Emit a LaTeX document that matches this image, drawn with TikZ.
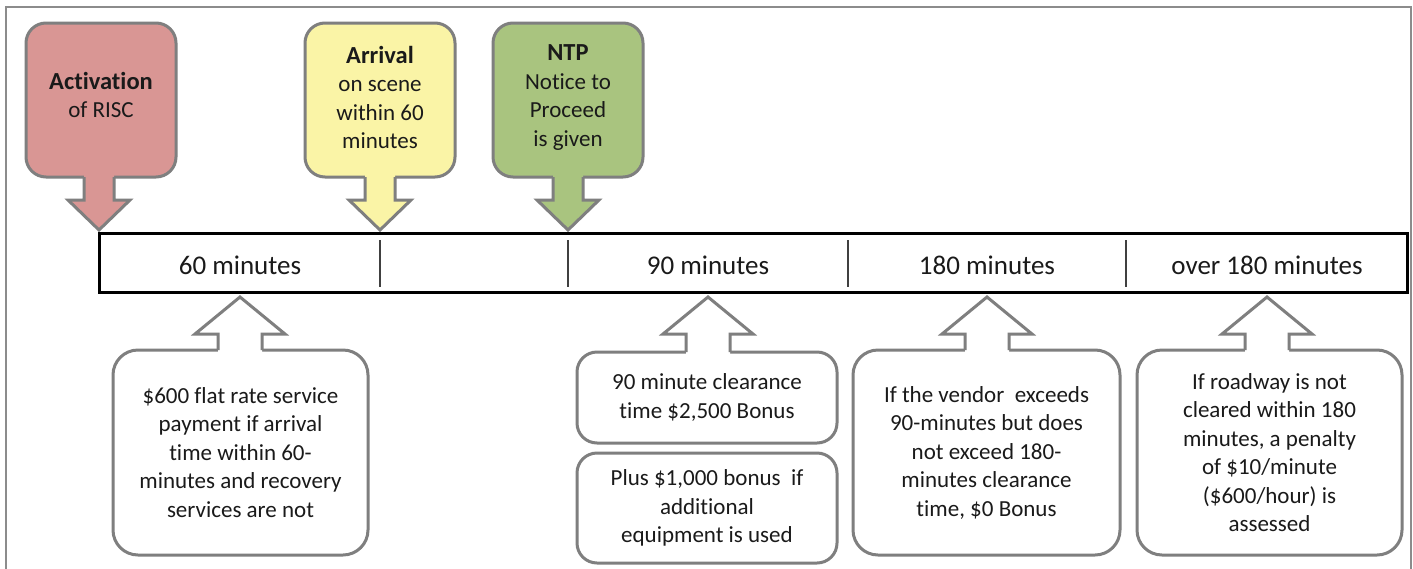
\documentclass[tikz,border=0pt]{standalone}
\usepackage{fontspec}
\setmainfont{Carlito}[Ligatures=NoCommon]
\usetikzlibrary{calc}
\definecolor{redfill}{HTML}{D99694}
\definecolor{yelfill}{HTML}{FAF4A6}
\definecolor{grnfill}{HTML}{A9C47F}
\definecolor{edgegray}{HTML}{7F7F7F}
\definecolor{txt}{HTML}{1A1A1A}
\definecolor{divgray}{HTML}{404040}
\definecolor{framegray}{HTML}{8C8C8C}

\newcommand{\callarrowdown}[3]{%
  \coordinate (#1-b) at (#2 |- #1.south);
  \coordinate (#1-h) at ($(#2)+(0,-30)$);
  \fill[#3] ($(#1-b)+(-15,-3)$) -- ($(#1-h)+(-15,0)$) -- ($(#1-h)+(-31,0)$) -- (#2) -- ($(#1-h)+(31,0)$) -- ($(#1-h)+(15,0)$) -- ($(#1-b)+(15,-3)$) -- cycle;
  \draw[calledge] ($(#1-b)+(-15,0)$) -- ($(#1-h)+(-15,0)$) -- ($(#1-h)+(-31,0)$) -- (#2) -- ($(#1-h)+(31,0)$) -- ($(#1-h)+(15,0)$) -- ($(#1-b)+(15,0)$);
}
\newcommand{\callarrowup}[2]{%
  \coordinate (#1-b) at (#2 |- #1.north);
  \coordinate (#1-h) at ($(#2)+(0,37)$);
  \fill[white] ($(#1-b)+(-22,3)$) -- ($(#1-h)+(-22,0)$) -- ($(#1-h)+(-45,0)$) -- (#2) -- ($(#1-h)+(45,0)$) -- ($(#1-h)+(22,0)$) -- ($(#1-b)+(22,3)$) -- cycle;
  \draw[calledge] ($(#1-b)+(-22,0)$) -- ($(#1-h)+(-22,0)$) -- ($(#1-h)+(-45,0)$) -- (#2) -- ($(#1-h)+(45,0)$) -- ($(#1-h)+(22,0)$) -- ($(#1-b)+(22,0)$);
}

\begin{document}
\begin{tikzpicture}[x=1pt,y=-1pt,
  calledge/.style={draw=edgegray, line width=3pt},
  topbox/.style={draw=edgegray, line width=3pt, rounded corners=20pt, minimum width=150pt, minimum height=154pt, inner sep=0pt, outer sep=0pt},
  toptext/.style={align=center, text=txt, inner sep=0pt, font=\fontsize{23}{28.5}\selectfont},
  botbox/.style={draw=edgegray, line width=3pt, fill=white, rounded corners=25pt, inner sep=0pt, outer sep=0pt, align=center, text=txt, font=\fontsize{23}{28.5}\selectfont},
  barlabel/.style={text=txt, inner sep=0pt, font=\fontsize{27}{32}\selectfont},
  divider/.style={draw=divgray, line width=1.5pt}
]
\useasboundingbox (0,0) rectangle (1413,568);
\fill[white] (0,0) rectangle (1413,568);
\draw[framegray, line width=1.5pt] (6,569) -- (6,7) -- (1411,7) -- (1411,569);

% timeline bar
\node[draw=black, line width=3pt, minimum width=1308pt, minimum height=59pt, inner sep=0pt, outer sep=0pt] (bar) at (753,262.5) {};
\coordinate (d1t) at (380,240); \coordinate (d1b) at (380,287);
\coordinate (d2t) at (568,240); \coordinate (d2b) at (568,287);
\coordinate (d3t) at (848,240); \coordinate (d3b) at (848,287);
\coordinate (d4t) at (1126,240); \coordinate (d4b) at (1126,287);
\draw[divider] (d1t) -- (d1b);
\draw[divider] (d2t) -- (d2b);
\draw[divider] (d3t) -- (d3b);
\draw[divider] (d4t) -- (d4b);
\node[barlabel] (l1) at (240,265) {60 minutes};
\node[barlabel] (l2) at (708,265) {90 minutes};
\node[barlabel] (l3) at (987,265) {180 minutes};
\node[barlabel] (l4) at (1267,265) {over 180 minutes};

% top callouts
\node[topbox, fill=redfill] (act) at (101,100) {};
\node[topbox, fill=yelfill] (arr) at (380,100) {};
\node[topbox, fill=grnfill] (ntp) at (568,100) {};
\coordinate (tAct) at (99,230);
\coordinate (tArr) at (380,230);
\coordinate (tNtp) at (568,230);
\callarrowdown{act}{tAct}{redfill}
\callarrowdown{arr}{tArr}{yelfill}
\callarrowdown{ntp}{tNtp}{grnfill}
\node[toptext] (actT) at (101,95) {{\fontsize{24.5}{28.5}\selectfont\bfseries Activation}\\of RISC};
\node[toptext] (arrT) at (380,97.5) {{\fontsize{24.5}{28.5}\selectfont\bfseries Arrival}\\on scene\\within 60\\minutes};
\node[toptext] (ntpT) at (568,97.5) {{\fontsize{24.5}{28.5}\selectfont\bfseries NTP}\\Notice to\\Proceed\\is given};

% bottom callouts
\node[botbox, minimum width=255pt, minimum height=205pt] (b1) at (240.5,452.5) {\$600 flat rate service\\payment if arrival\\time within 60-\\minutes and recovery\\services are not};
\node[botbox, rounded corners=20pt, minimum width=260pt, minimum height=91pt] (b2a) at (707,397.5) {90 minute clearance\\time \$2,500 Bonus};
\node[botbox, rounded corners=20pt, minimum width=260pt, minimum height=110pt] (b2b) at (707,508) {Plus \$1,000 bonus\ \ if\\additional\\equipment is used};
\node[botbox, minimum width=267pt, minimum height=205pt] (b3) at (986.5,452.5) {If the vendor\ \ exceeds\\90-minutes but does\\not exceed 180-\\minutes clearance\\time, \$0 Bonus};
\node[botbox, minimum width=265pt, minimum height=205pt] (b4) at (1269.5,452.5) {If roadway is not\\cleared within 180\\minutes, a penalty\\of \$10/minute\\(\$600/hour) is\\assessed};
\coordinate (t1) at (240,297);
\coordinate (t2) at (708,297);
\coordinate (t3) at (987,297);
\coordinate (t4) at (1267,297);
\callarrowup{b1}{t1}
\callarrowup{b2a}{t2}
\callarrowup{b3}{t3}
\callarrowup{b4}{t4}
\end{tikzpicture}
\end{document}
